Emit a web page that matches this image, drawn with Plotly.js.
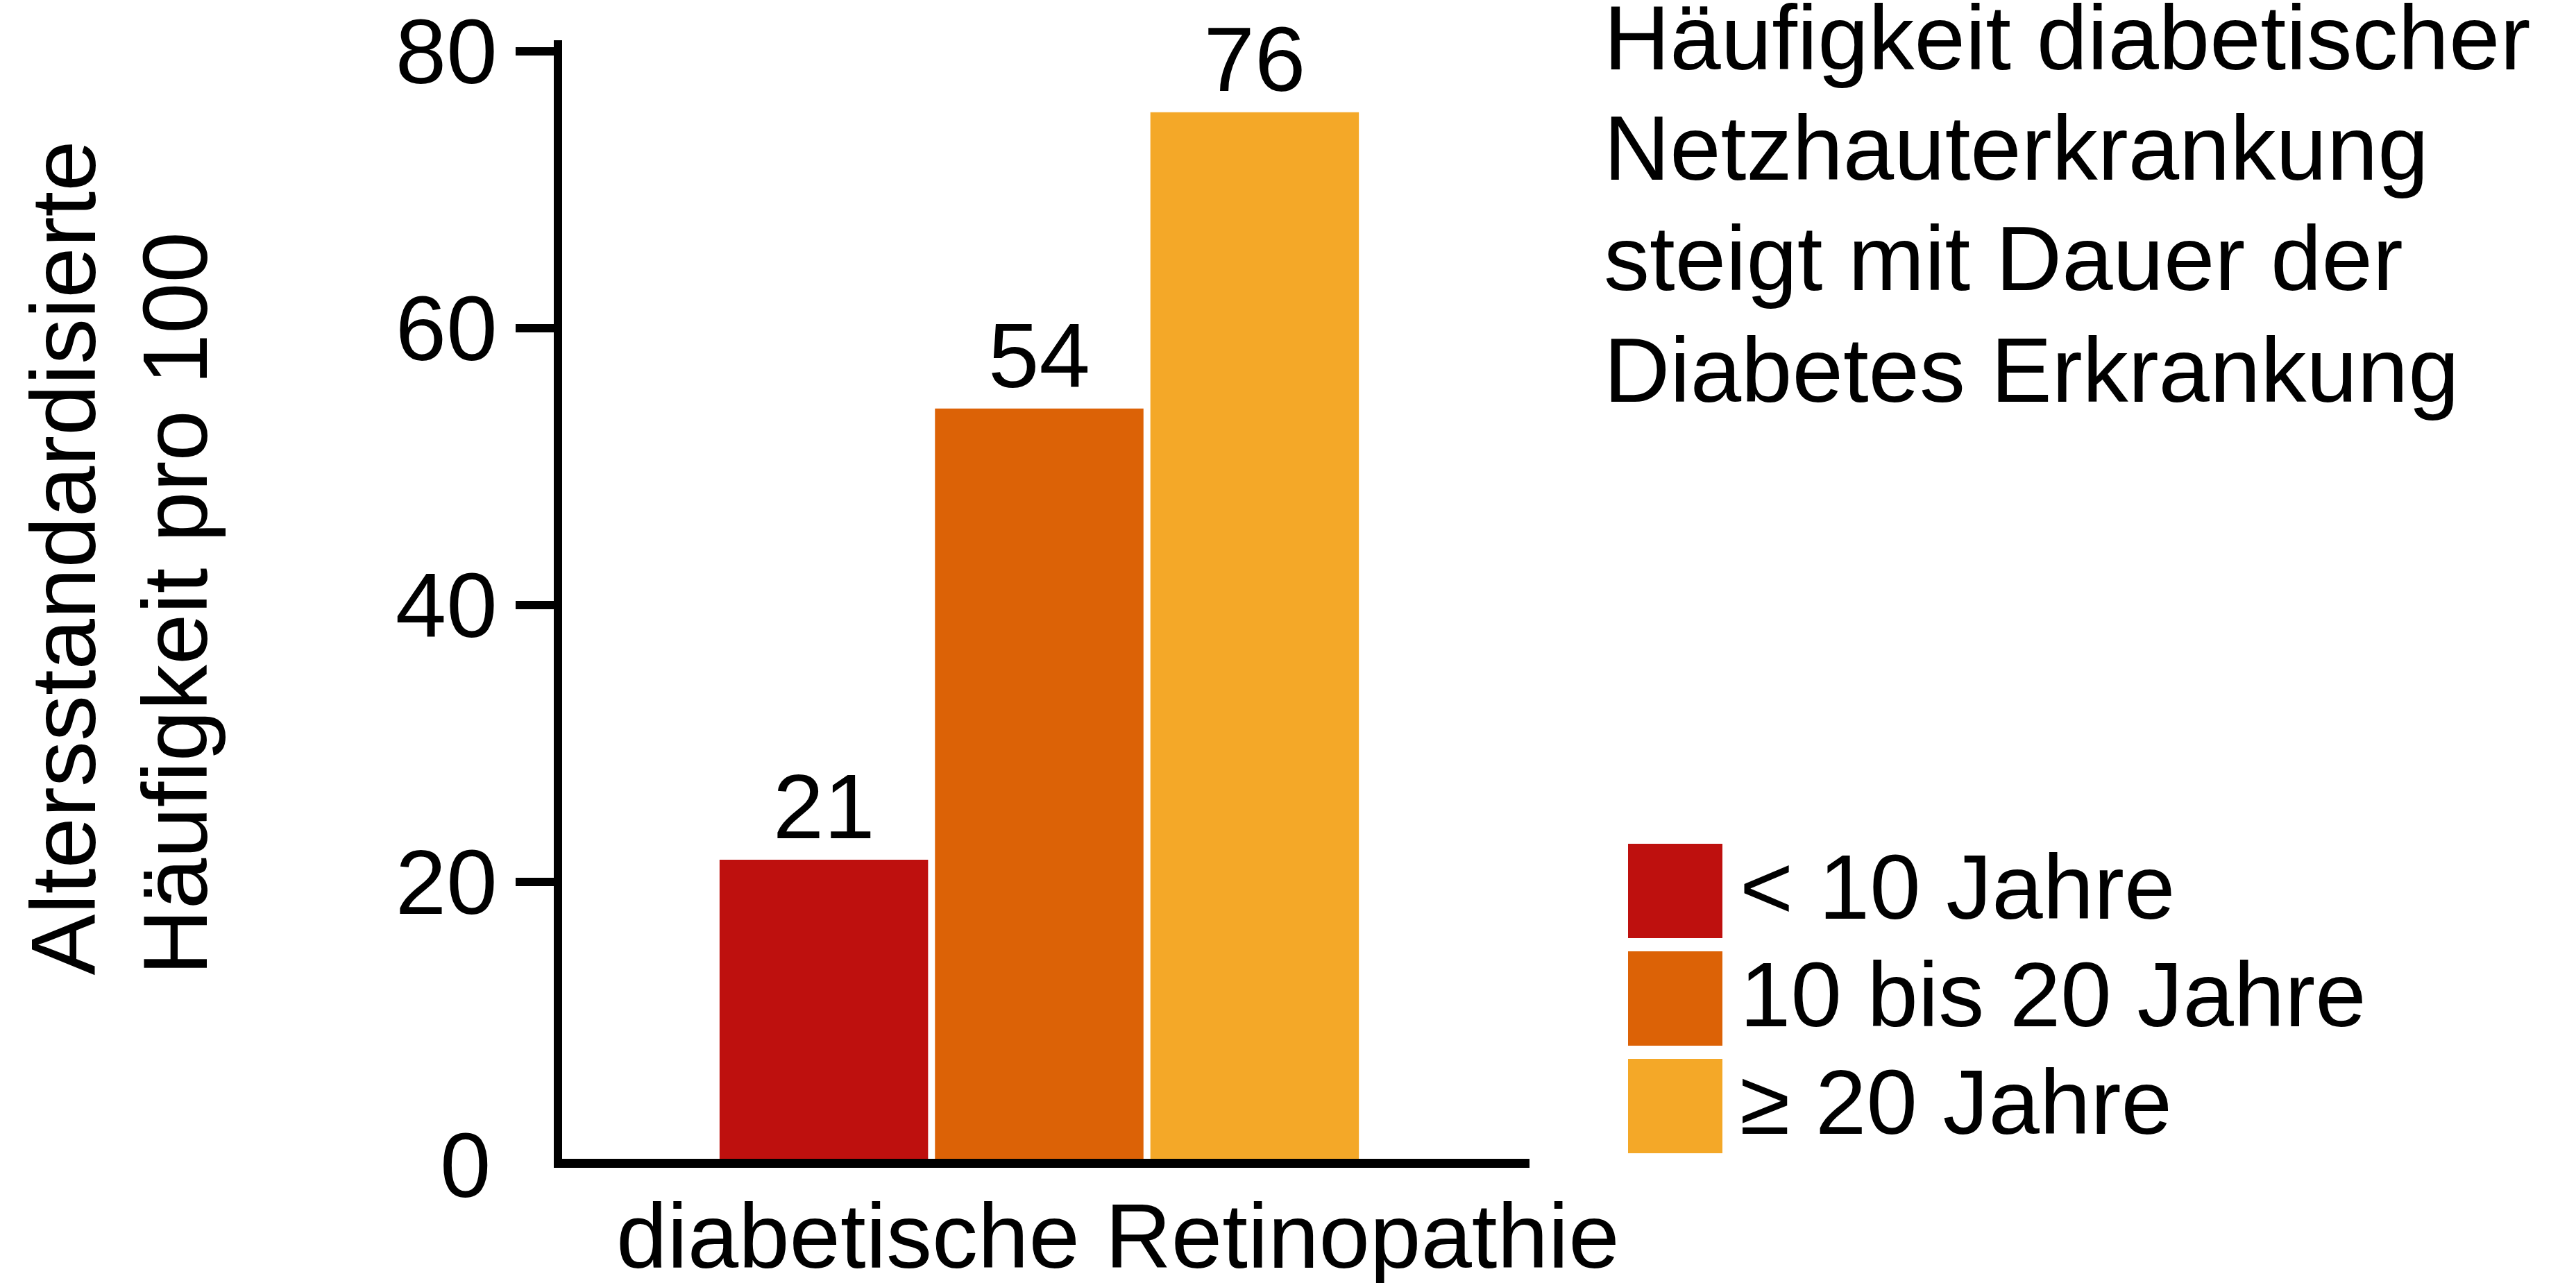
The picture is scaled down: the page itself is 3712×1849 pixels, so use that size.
<!DOCTYPE html>
<html><head><meta charset="utf-8">
<script src="https://cdn.plot.ly/plotly-3.0.1.min.js"></script>
<style>html,body{margin:0;padding:0;background:#fff;overflow:hidden;}</style>
</head><body><div id="chart" style="width:3712px;height:1849px;"></div>
<script>
// ---- data ----
const categories = ["diabetische Retinopathie"];
const seriesNames = ["< 10 Jahre", "10 bis 20 Jahre", "≥ 20 Jahre"];
const valuesUnder10 = [21.6];
const values10to20 = [54.2];
const valuesOver20 = [75.6];
const labelsUnder10 = ["21"];
const labels10to20 = ["54"];
const labelsOver20 = ["76"];
const yTickVals = [0, 20, 40, 60, 80];
const yTickText = ["0", "20", "40", "60", "80"];
const yTitleLines = ["Altersstandardisierte", "Häufigkeit pro 100"];
const titleLines = ["Häufigkeit diabetischer", "Netzhauterkrankung", "steigt mit Dauer der", "Diabetes Erkrankung"];
const colors = ["#BE100E", "#DC6206", "#F4A828"];

// ---- layout geometry (pixels) ----
const W = 3712, H = 1849;
const L = 810, R = 2204, T = 58, B = 1670;
const FS = 132;
const FONT = "Liberation Sans, Arial, sans-serif";
const px2x = p => (p - L) / (R - L);
const py2y = p => (B - p) / (B - T);
const Y_RANGE = [0, 80.8];

const seriesValues = [valuesUnder10, values10to20, valuesOver20];
const seriesLabels = [labelsUnder10, labels10to20, labelsOver20];

const traces = seriesNames.map((name, i) => ({
  type: "bar",
  name: name,
  x: categories,
  y: seriesValues[i],
  text: seriesLabels[i],
  textposition: "outside",
  constraintext: "none",
  cliponaxis: false,
  textfont: {family: FONT, size: FS, color: "#000"},
  marker: {color: colors[i], line: {width: 0}},
  showlegend: false,
  hoverinfo: "skip"
}));

const annotations = [];
const shapes = [];

// y-axis title (two left-aligned rotated lines)
const yTitleCenters = [91, 252];
yTitleLines.forEach((t, i) => {
  annotations.push({
    text: t, xref: "paper", yref: "paper",
    x: px2x(yTitleCenters[i]), y: py2y(1408),
    xanchor: "center", yanchor: "bottom",
    textangle: -90, showarrow: false,
    font: {family: FONT, size: FS, color: "#000"}
  });
});

// right-side title text, one line each
const titleBaselines = [100, 259, 419, 579];
titleLines.forEach((t, i) => {
  annotations.push({
    text: t, xref: "paper", yref: "paper",
    x: px2x(2309), y: py2y(titleBaselines[i] - 121.5),
    xanchor: "left", yanchor: "top", align: "left",
    showarrow: false,
    font: {family: FONT, size: FS, color: "#000"}
  });
});

// legend (large squares + labels)
seriesNames.forEach((name, i) => {
  shapes.push({
    type: "rect", xref: "paper", yref: "paper",
    x0: px2x(2346), x1: px2x(2482),
    y0: py2y(1352 + 155 * i), y1: py2y(1216 + 155 * i),
    fillcolor: colors[i], line: {width: 0}
  });
  annotations.push({
    text: name, xref: "paper", yref: "paper",
    x: px2x(2505), y: py2y(1324 + 155 * i - 121.5),
    xanchor: "left", yanchor: "top", align: "left",
    showarrow: false,
    font: {family: FONT, size: FS, color: "#000"}
  });
});

// category label under the axis
annotations.push({
  text: categories[0], xref: "paper", yref: "paper",
  x: px2x(886), y: py2y(1827 - 121.5),
  xanchor: "left", yanchor: "top",
  showarrow: false,
  font: {family: FONT, size: FS, color: "#000"}
});

// tick marks at all values except 0 (the reference has no mark at 0);
// the 0 label is placed on the y scale as an annotation
const markedVals = yTickVals.filter(v => v !== 0);
const markedText = yTickText.filter((t, i) => yTickVals[i] !== 0);
yTickVals.forEach((v, i) => {
  if (v !== 0) return;
  annotations.push({
    text: yTickText[i], xref: "paper", yref: "y",
    x: px2x(709), y: v, yshift: -9,
    xanchor: "right", yanchor: "middle",
    showarrow: false,
    font: {family: FONT, size: FS, color: "#000"}
  });
});

const layout = {
  width: W, height: H,
  margin: {l: L, r: W - R, t: T, b: H - B, pad: 0},
  paper_bgcolor: "#fff", plot_bgcolor: "#fff",
  font: {family: FONT, size: FS, color: "#000"},
  barmode: "group",
  bargap: 0.332,
  bargroupgap: 0.032,
  xaxis: {
    type: "category",
    range: [-0.4932, 0.5068],
    showline: true, linewidth: 13, linecolor: "#000",
    ticks: "", showticklabels: false,
    showgrid: false, zeroline: false, fixedrange: true
  },
  yaxis: {
    range: Y_RANGE,
    tickmode: "array", tickvals: markedVals, ticktext: markedText,
    ticks: "outside", ticklen: 55, tickwidth: 12, tickcolor: "#000",
    showline: true, linewidth: 12, linecolor: "#000",
    tickfont: {family: FONT, size: FS, color: "#000"},
    showgrid: false, zeroline: false, fixedrange: true
  },
  annotations: annotations,
  shapes: shapes,
  showlegend: false
};

Plotly.newPlot("chart", traces, layout, {staticPlot: true, displayModeBar: false});
</script>
</body></html>
